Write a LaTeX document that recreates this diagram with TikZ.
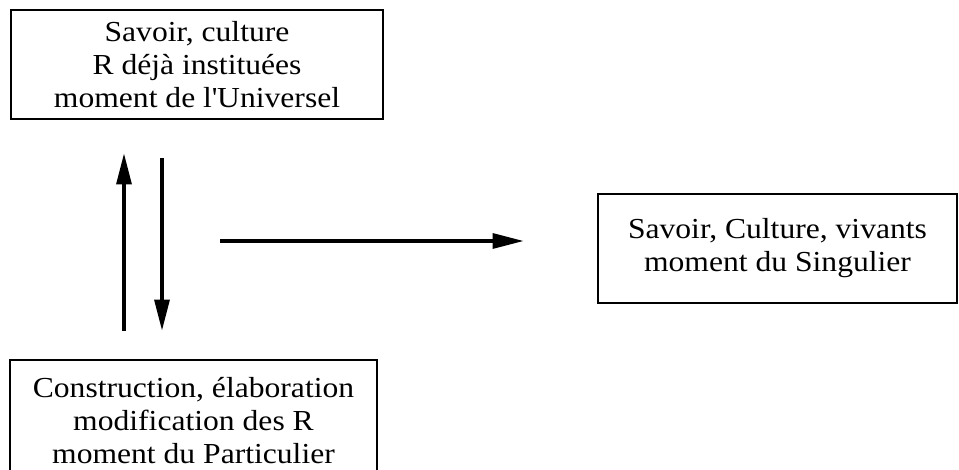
\documentclass[tikz,border=0pt]{standalone}
\usepackage{fontspec}
\setmainfont{Liberation Serif}[FakeStretch=1.09]
\usepackage{tikz}
\usetikzlibrary{positioning,calc,arrows.meta}

\begin{document}
\begin{tikzpicture}[x=1pt, y=1pt,
    box/.style={draw, line width=2.8pt, inner sep=0pt, align=center,
        font=\fontsize{29}{33}\selectfont},
    conn/.style={line width=3.2pt, -{Triangle[length=31pt, width=15pt]}}]
    \clip (0, 0) rectangle (959, 469);

    % the three moments
    \node [box, minimum width=372pt, minimum height=109pt] (univ) at (197, 404.5)
        {Savoir, culture\\R déjà instituées\\moment de l\textquotesingle Universel};
    \node [box, minimum width=359pt, minimum height=109pt] (sing) at (777.5, 220.5)
        {Savoir, Culture, vivants\\moment du Singulier};
    \node [box, minimum width=367pt, minimum height=122pt] (part) at (193.5, 48)
        {Construction, élaboration\\modification des R\\moment du Particulier};

    % arrows
    \draw [conn] ([shift={(-69.5pt, 28pt)}]part.north) -- ([shift={(-73pt, -33pt)}]univ.south);
    \draw [conn] ([shift={(-35pt, -38pt)}]univ.south) -- ([shift={(-31.5pt, 28pt)}]part.north);
    \coordinate (hstart) at (220, 228);
    \draw [conn] (hstart) -- ([shift={(-73pt, 7.5pt)}]sing.west);
\end{tikzpicture}
\end{document}
